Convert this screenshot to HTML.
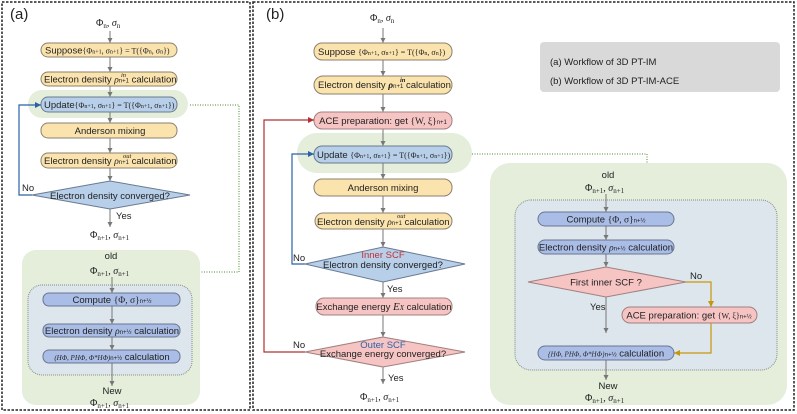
<!DOCTYPE html>
<html><head><meta charset="utf-8"><style>
body{margin:0;background:#fff}
svg{display:block}
text{font-family:"Liberation Sans",sans-serif;font-size:9.5px;fill:#222}
.m{font-family:"Liberation Serif",serif;font-style:italic}
.r{font-family:"Liberation Serif",serif}
.y{fill:#fbe3ad;stroke:#8a8070;stroke-width:1}
.p{fill:#f6c4c3;stroke:#a08080;stroke-width:1}
.b{fill:#b7cfe9;stroke:#6a7a90;stroke-width:1}
.c{fill:#aabde6;stroke:#6a7590;stroke-width:1}
.a{stroke:#777;stroke-width:1;fill:none;marker-end:url(#ar)}
.sp{font-family:"Liberation Serif",serif;font-style:italic;font-size:6.5px}
</style></head><body>
<svg width="797" height="414" viewBox="0 0 797 414">
<defs>
<marker id="ar" markerWidth="6" markerHeight="6" refX="5" refY="3" orient="auto"><path d="M0,0.5L5,3L0,5.5z" fill="#777"/></marker>
<marker id="arB" markerWidth="6" markerHeight="6" refX="5" refY="3" orient="auto"><path d="M0,0.5L5,3L0,5.5z" fill="#2a62a8"/></marker>
<marker id="arR" markerWidth="6" markerHeight="6" refX="5" refY="3" orient="auto"><path d="M0,0.5L5,3L0,5.5z" fill="#b03030"/></marker>
<marker id="arG" markerWidth="6" markerHeight="6" refX="5" refY="3" orient="auto"><path d="M0,0.5L5,3L0,5.5z" fill="#c8960a"/></marker>
</defs>
<g stroke="#222" stroke-width="1.5" stroke-dasharray="2.5,1.5" fill="none">
<rect x="2" y="2" width="248" height="408"/>
<rect x="253" y="2" width="541" height="408"/>
</g>
<!-- (a) -->
<text x="10" y="19" style="font-size:15px">(a)</text>
<text x="96" y="26" class="r" style="font-size:10px">Φ<tspan font-size="7" dy="2">n</tspan><tspan dy="-2">, </tspan><tspan class="m">σ</tspan><tspan font-size="7" dy="2">n</tspan></text>
<rect x="28" y="90" width="160" height="28" rx="14" fill="#e4eedb"/>
<rect x="22" y="250" width="178" height="155" rx="14" fill="#e4eedb"/>
<rect x="28" y="285" width="164" height="90" rx="14" fill="#dce6ec" stroke="#888" stroke-dasharray="1,1"/>
<line x1="110" y1="31" x2="110" y2="43" class="a"/>
<line x1="110" y1="57" x2="110" y2="72" class="a"/>
<line x1="110" y1="86" x2="110" y2="97" class="a"/>
<line x1="110" y1="112" x2="110" y2="123" class="a"/>
<line x1="110" y1="138" x2="110" y2="153" class="a"/>
<line x1="110" y1="168" x2="110" y2="181" class="a"/>
<line x1="110" y1="209" x2="110" y2="227" class="a"/>
<rect x="41" y="43" width="136" height="14" rx="7" class="y"/>
<text x="45" y="53.5">Suppose<tspan class="r" font-size="8">{Φ<tspan font-size="6">n+1</tspan>, σ<tspan font-size="6">n+1</tspan>} = T({Φ<tspan font-size="6">n</tspan>, σ<tspan font-size="6">n</tspan>})</tspan></text>
<rect x="41" y="72" width="136" height="14" rx="7" class="y"/>
<text x="44" y="82.5">Electron density <tspan class="m">ρ</tspan><tspan font-size="6">n+1</tspan> calculation</text>
<text x="121" y="77" class="sp">in</text>
<rect x="41" y="97" width="136" height="15" rx="7" class="b"/>
<text x="44" y="108">Update<tspan class="r" font-size="8">{Φ<tspan font-size="6">n+1</tspan>, σ<tspan font-size="6">n+1</tspan>} = T({Φ<tspan font-size="6">n+1</tspan>, σ<tspan font-size="6">n+1</tspan>})</tspan></text>
<rect x="41" y="123" width="136" height="15" rx="7" class="y"/>
<text x="110" y="134" text-anchor="middle">Anderson mixing</text>
<rect x="41" y="153" width="136" height="15" rx="7" class="y"/>
<text x="44" y="164">Electron density  <tspan class="m">ρ</tspan><tspan font-size="6">n+1</tspan>  calculation</text>
<text x="123" y="158" class="sp">out</text>
<polygon points="32,195 110,181 190,195 110,209" class="b"/>
<text x="110" y="199" text-anchor="middle">Electron density converged?</text>
<text x="22" y="191">No</text>
<polyline points="32,195 19,195 19,105 41,105" fill="none" stroke="#2a62a8" stroke-width="1.2" marker-end="url(#arB)"/>
<polyline points="190,105 239,105 239,272 200,272" fill="none" stroke="#4a8a2a" stroke-dasharray="1,1.5"/>
<text x="116" y="219">Yes</text>
<text x="90" y="238" class="r" style="font-size:10px">Φ<tspan font-size="7" dy="2">n+1</tspan><tspan dy="-2">, </tspan><tspan class="m">σ</tspan><tspan font-size="7" dy="2">n+1</tspan></text>
<text x="111" y="259" text-anchor="middle">old</text>
<text x="90" y="274" class="r" style="font-size:10px">Φ<tspan font-size="7" dy="2">n+1</tspan><tspan dy="-2">, </tspan><tspan class="m">σ</tspan><tspan font-size="7" dy="2">n+1</tspan></text>
<line x1="112" y1="277" x2="112" y2="293" class="a"/>
<line x1="112" y1="306" x2="112" y2="324" class="a"/>
<line x1="112" y1="337" x2="112" y2="350" class="a"/>
<line x1="112" y1="363" x2="112" y2="386" class="a"/>
<rect x="43" y="293" width="137" height="13" rx="6" class="c"/>
<text x="112" y="303" text-anchor="middle" font-size="8.5">Compute <tspan class="r">{Φ, σ}</tspan><tspan font-size="6">n+½</tspan></text>
<rect x="43" y="324" width="137" height="13" rx="6" class="c"/>
<text x="112" y="334" text-anchor="middle" font-size="8.5">Electron density <tspan class="m">ρ</tspan><tspan font-size="6">n+½</tspan>  calculation</text>
<rect x="43" y="350" width="137" height="13" rx="6" class="c"/>
<text x="112" y="360" text-anchor="middle" font-size="8.5"><tspan class="m" font-size="7">(HΦ, PHΦ, Φ*HΦ)</tspan><tspan font-size="6">n+½</tspan> calculation</text>
<text x="112" y="394" text-anchor="middle">New</text>
<text x="90" y="406" class="r" style="font-size:10px">Φ<tspan font-size="7" dy="2">n+1</tspan><tspan dy="-2">, </tspan><tspan class="m">σ</tspan><tspan font-size="7" dy="2">n+1</tspan></text>
<!-- (b) -->
<text x="266" y="19" style="font-size:15px">(b)</text>
<text x="370" y="21" class="r" style="font-size:10px">Φ<tspan font-size="7" dy="2">n</tspan><tspan dy="-2">, </tspan><tspan class="m">σ</tspan><tspan font-size="7" dy="2">n</tspan></text>
<rect x="540" y="42" width="240" height="50" rx="4" fill="#d9d9d9"/>
<text x="550" y="65" font-size="10.5">(a) Workflow of 3D PT-IM</text>
<text x="550" y="84" font-size="10.5">(b) Workflow of 3D PT-IM-ACE</text>
<rect x="297" y="133" width="175" height="40" rx="20" fill="#e4eedb"/>
<rect x="490" y="163" width="297" height="242" rx="20" fill="#e4eedb"/>
<rect x="515" y="200" width="262" height="170" rx="16" fill="#dce6ec" stroke="#888" stroke-dasharray="1,1"/>
<line x1="383" y1="28" x2="383" y2="43" class="a"/>
<line x1="383" y1="60" x2="383" y2="76" class="a"/>
<line x1="383" y1="94" x2="383" y2="112" class="a"/>
<line x1="383" y1="129" x2="383" y2="146" class="a"/>
<line x1="383" y1="163" x2="383" y2="179" class="a"/>
<line x1="383" y1="196" x2="383" y2="213" class="a"/>
<line x1="383" y1="229" x2="383" y2="247" class="a"/>
<line x1="383" y1="282" x2="383" y2="298" class="a"/>
<line x1="383" y1="315" x2="383" y2="337" class="a"/>
<line x1="383" y1="367" x2="383" y2="384" class="a"/>
<rect x="314" y="43" width="138" height="17" rx="8" class="y"/>
<text x="318" y="55">Suppose <tspan class="r" font-size="8">{Φ<tspan font-size="6">n+1</tspan>, σ<tspan font-size="6">n+1</tspan>} = T({Φ<tspan font-size="6">n</tspan>, σ<tspan font-size="6">n</tspan>})</tspan></text>
<rect x="314" y="76" width="138" height="18" rx="9" class="y"/>
<text x="318" y="88">Electron density  <tspan class="m" font-weight="bold">ρ</tspan><tspan font-size="6">n+1</tspan>   calculation</text>
<text x="400" y="82" class="sp" font-weight="bold">in</text>
<rect x="314" y="112" width="138" height="17" rx="8" class="p"/>
<text x="383" y="124" text-anchor="middle">ACE preparation: get <tspan class="r">{W, ξ}</tspan><tspan font-size="6">n+1</tspan></text>
<rect x="314" y="146" width="138" height="17" rx="8" class="b"/>
<text x="317" y="158">Update <tspan class="r" font-size="8">{Φ<tspan font-size="6">n+1</tspan>, σ<tspan font-size="6">n+1</tspan>} = T({Φ<tspan font-size="6">n+1</tspan>, σ<tspan font-size="6">n+1</tspan>})</tspan></text>
<rect x="314" y="179" width="138" height="17" rx="8" class="y"/>
<text x="383" y="191" text-anchor="middle">Anderson mixing</text>
<rect x="315" y="213" width="137" height="16" rx="8" class="y"/>
<text x="317" y="225">Electron density  <tspan class="m">ρ</tspan><tspan font-size="6">n+1</tspan>  calculation</text>
<text x="397" y="218" class="sp">out</text>
<polygon points="305,264 383,247 465,264 383,282" class="b"/>
<text x="383" y="258" text-anchor="middle" style="fill:#c03030">Inner SCF</text>
<text x="383" y="268" text-anchor="middle">Electron density converged?</text>
<text x="293" y="261">No</text>
<polyline points="305,264 292,264 292,154 314,154" fill="none" stroke="#2a62a8" stroke-width="1.2" marker-end="url(#arB)"/>
<text x="387" y="292">Yes</text>
<rect x="316" y="298" width="136" height="17" rx="8" class="p"/>
<text x="384" y="310" text-anchor="middle">Exchange energy <tspan class="m" font-size="11">E<tspan font-size="7">X</tspan></tspan> calculation</text>
<polygon points="305,352 383,337 465,352 383,367" class="p"/>
<text x="383" y="348" text-anchor="middle" style="fill:#2a62a8">Outer SCF</text>
<text x="383" y="357" text-anchor="middle">Exchange energy converged?</text>
<text x="293" y="348">No</text>
<polyline points="305,352 264,352 264,120 314,120" fill="none" stroke="#b03030" stroke-width="1.2" marker-end="url(#arR)"/>
<text x="388" y="381">Yes</text>
<text x="360" y="400" class="r" style="font-size:10px">Φ<tspan font-size="7" dy="2">n+1</tspan><tspan dy="-2">, </tspan><tspan class="m">σ</tspan><tspan font-size="7" dy="2">n+1</tspan></text>
<polyline points="472,154 647,154 647,163" fill="none" stroke="#4a8a2a" stroke-dasharray="1,1.5"/>
<text x="608" y="178" text-anchor="middle">old</text>
<text x="585" y="191" class="r" style="font-size:10px">Φ<tspan font-size="7" dy="2">n+1</tspan><tspan dy="-2">, </tspan><tspan class="m">σ</tspan><tspan font-size="7" dy="2">n+1</tspan></text>
<line x1="606" y1="194" x2="606" y2="212" class="a"/>
<line x1="606" y1="226" x2="606" y2="240" class="a"/>
<line x1="606" y1="254" x2="606" y2="267" class="a"/>
<line x1="606" y1="297" x2="606" y2="333" class="a"/>
<line x1="606" y1="360" x2="606" y2="380" class="a"/>
<rect x="538" y="212" width="136" height="14" rx="7" class="c"/>
<text x="606" y="222.5" text-anchor="middle">Compute  <tspan class="r">{Φ, σ}</tspan><tspan font-size="6">n+½</tspan></text>
<rect x="538" y="240" width="136" height="14" rx="7" class="c"/>
<text x="606" y="250.5" text-anchor="middle">Electron density <tspan class="m">ρ</tspan><tspan font-size="6">n+½</tspan>  calculation</text>
<polygon points="528,282 606,267 686,282 606,297" class="p"/>
<text x="606" y="285.5" text-anchor="middle">First inner SCF ?</text>
<text x="690" y="279">No</text>
<text x="590" y="310">Yes</text>
<polyline points="686,282 711,282 711,307" fill="none" stroke="#c8960a" stroke-width="1.2" marker-end="url(#arG)"/>
<rect x="622" y="307" width="135" height="16" rx="8" class="p"/>
<text x="689" y="318.5" text-anchor="middle">ACE preparation: get <tspan class="r" font-size="8">{W, ξ}</tspan><tspan font-size="6">n+½</tspan></text>
<polyline points="711,323 711,353 674,353" fill="none" stroke="#c8960a" stroke-width="1.2" marker-end="url(#arG)"/>
<rect x="538" y="346" width="136" height="14" rx="7" class="c"/>
<text x="606" y="356.5" text-anchor="middle"><tspan class="m" font-size="7">{HΦ, PHΦ, Φ*HΦ}</tspan><tspan font-size="6">n+½</tspan> calculation</text>
<text x="608" y="389" text-anchor="middle">New</text>
<text x="585" y="401" class="r" style="font-size:10px">Φ<tspan font-size="7" dy="2">n+1</tspan><tspan dy="-2">, </tspan><tspan class="m">σ</tspan><tspan font-size="7" dy="2">n+1</tspan></text>
</svg>
</body></html>
